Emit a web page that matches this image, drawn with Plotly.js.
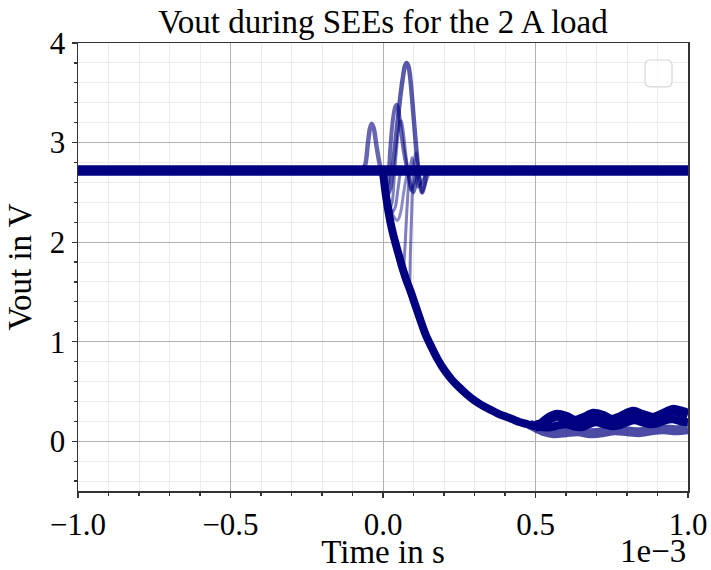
<!DOCTYPE html>
<html>
<head>
<meta charset="utf-8">
<script src="https://cdn.plot.ly/plotly-3.0.1.min.js"></script>
<style>html,body{margin:0;padding:0;background:#fff;}#chart{width:711px;height:570px;}</style>
</head>
<body>
<div id="chart"></div>
<script>
// Time values in units of 1e-3 s, voltages in V
const tFlat = [-1.0, 1.0];
const vFlat = [2.72, 2.72];

const tDecay = [0, 0.01, 0.02, 0.03, 0.04, 0.05, 0.06, 0.07, 0.08, 0.09, 0.10, 0.12, 0.14, 0.16, 0.18, 0.20, 0.225, 0.25, 0.275, 0.30, 0.325, 0.35, 0.375, 0.40, 0.425, 0.45, 0.475, 0.50, 0.525, 0.55, 0.575, 0.60, 0.625, 0.65, 0.675, 0.70, 0.725, 0.75, 0.775, 0.80, 0.825, 0.85, 0.875, 0.90, 0.925, 0.95, 0.975, 1.0];
const vDecay = [2.70, 2.46, 2.27, 2.12, 2.00, 1.89, 1.78, 1.68, 1.59, 1.51, 1.42, 1.24, 1.07, 0.94, 0.82, 0.72, 0.62, 0.54, 0.47, 0.41, 0.36, 0.32, 0.28, 0.25, 0.22, 0.19, 0.17, 0.15, 0.14, 0.14, 0.16, 0.17, 0.15, 0.14, 0.17, 0.19, 0.17, 0.15, 0.16, 0.19, 0.21, 0.19, 0.17, 0.18, 0.21, 0.22, 0.20, 0.19];

const tTailUpper = [0.50, 0.52, 0.54, 0.57, 0.60, 0.63, 0.66, 0.69, 0.72, 0.75, 0.78, 0.82, 0.85, 0.885, 0.92, 0.95, 0.98, 1.0];
const vTailUpper = [0.15, 0.17, 0.22, 0.26, 0.24, 0.20, 0.23, 0.27, 0.25, 0.21, 0.24, 0.29, 0.26, 0.23, 0.27, 0.31, 0.29, 0.27];

const tTailLower = [0.48, 0.50, 0.53, 0.56, 0.60, 0.64, 0.68, 0.72, 0.76, 0.80, 0.84, 0.88, 0.92, 0.96, 1.0];
const vTailLower = [0.17, 0.14, 0.10, 0.08, 0.09, 0.10, 0.08, 0.09, 0.11, 0.10, 0.09, 0.11, 0.12, 0.11, 0.12];

const tPreSpike = [-0.07, -0.058, -0.05, -0.043, -0.037, -0.03, -0.022, -0.012, -0.004, 0.005, 0.015, 0.03, 0.05, 0.07, 0.10];
const vPreSpike = [2.72, 2.78, 2.98, 3.14, 3.19, 3.14, 2.98, 2.80, 2.68, 2.52, 2.34, 2.14, 1.89, 1.68, 1.42];

const tSpikeHigh = [0, 0.008, 0.016, 0.024, 0.032, 0.04, 0.048, 0.056, 0.064, 0.072, 0.078, 0.084, 0.09, 0.096, 0.104, 0.112, 0.12, 0.128, 0.136, 0.145, 0.16];
const vSpikeHigh = [2.70, 2.56, 2.48, 2.55, 2.75, 2.98, 3.22, 3.44, 3.63, 3.77, 3.80, 3.76, 3.63, 3.42, 3.12, 2.84, 2.62, 2.50, 2.58, 2.72, 2.72];

const tSpikeMid = [0, 0.008, 0.016, 0.024, 0.032, 0.04, 0.045, 0.05, 0.056, 0.062, 0.068, 0.075, 0.082, 0.09, 0.10, 0.11, 0.12];
const vSpikeMid = [2.68, 2.52, 2.60, 2.95, 3.22, 3.36, 3.38, 3.34, 3.20, 3.05, 2.92, 2.80, 2.70, 2.58, 2.50, 2.62, 2.72];

const tSpikeLow = [0, 0.01, 0.02, 0.03, 0.038, 0.046, 0.054, 0.06, 0.066, 0.074, 0.082, 0.09, 0.10, 0.11];
const vSpikeLow = [2.66, 2.45, 2.32, 2.40, 2.70, 2.98, 3.18, 3.22, 3.12, 2.90, 2.70, 2.52, 2.58, 2.72];

const tDip1 = [0, 0.01, 0.02, 0.03, 0.04, 0.05, 0.06, 0.066, 0.072, 0.078, 0.085, 0.095, 0.105, 0.115, 0.13, 0.145];
const vDip1 = [2.68, 2.48, 2.30, 2.14, 2.01, 1.89, 1.78, 1.72, 1.95, 2.30, 2.62, 2.85, 2.72, 2.55, 2.62, 2.72];

const tDip2 = [0, 0.01, 0.02, 0.03, 0.04, 0.05, 0.06, 0.07, 0.08, 0.086, 0.09, 0.095, 0.10, 0.108, 0.118, 0.128, 0.14, 0.155];
const vDip2 = [2.68, 2.50, 2.32, 2.17, 2.04, 1.92, 1.80, 1.70, 1.61, 1.56, 1.90, 2.40, 2.75, 2.90, 2.70, 2.50, 2.60, 2.72];

const tDip3 = [0, 0.01, 0.02, 0.03, 0.04, 0.05, 0.06, 0.07];
const vDip3 = [2.70, 2.55, 2.40, 2.30, 2.35, 2.55, 2.72, 2.72];

const tDip4 = [0, 0.012, 0.024, 0.036, 0.048, 0.058, 0.068, 0.08, 0.095, 0.11];
const vDip4 = [2.70, 2.52, 2.36, 2.25, 2.22, 2.30, 2.50, 2.68, 2.74, 2.72];

const xTickVals = [-1.0, -0.5, 0.0, 0.5, 1.0];
const yTickVals = [0, 1, 2, 3, 4];

const NAVY = '#000080';
const FONT = 'Liberation Serif, Times New Roman, serif';
const FS_TICK = 31;
const FS_TITLE = 33;

function tr(x, y, width, opacity) {
  return {x: x, y: y, type: 'scatter', mode: 'lines', showlegend: false, hoverinfo: 'skip',
          line: {color: NAVY, width: width, shape: 'spline', smoothing: 0.8}, opacity: opacity};
}

const data = [
  tr(tFlat, vFlat, 10.5, 1),
  tr(tDecay, vDecay, 8, 1),
  tr(tTailUpper, vTailUpper, 11, 1),
  tr(tTailLower, vTailLower, 10, 0.7),
  tr(tPreSpike, vPreSpike, 4.5, 0.6),
  tr(tSpikeHigh, vSpikeHigh, 4.5, 0.65),
  tr(tSpikeMid, vSpikeMid, 4, 0.6),
  tr(tSpikeLow, vSpikeLow, 3, 0.5),
  tr(tDip1, vDip1, 3, 0.5),
  tr(tDip2, vDip2, 3, 0.5),
  tr(tDip3, vDip3, 3, 0.5),
  tr(tDip4, vDip4, 3, 0.45)
];

// rounded empty legend frame (paper coords)
const lx0 = 0.9295, lx1 = 0.9738, ly0 = 0.902, ly1 = 0.962, rx = 0.009, ry = 0.012;
const legendPath = `M ${lx0+rx},${ly1} L ${lx1-rx},${ly1} Q ${lx1},${ly1} ${lx1},${ly1-ry} L ${lx1},${ly0+ry} Q ${lx1},${ly0} ${lx1-rx},${ly0} L ${lx0+rx},${ly0} Q ${lx0},${ly0} ${lx0},${ly0+ry} L ${lx0},${ly1-ry} Q ${lx0},${ly1} ${lx0+rx},${ly1} Z`;

const layout = {
  width: 711, height: 570,
  margin: {l: 78, r: 23, t: 43, b: 79},
  paper_bgcolor: '#ffffff', plot_bgcolor: '#ffffff',
  font: {family: FONT, color: '#000', size: FS_TICK},
  title: {text: 'Vout during SEEs for the 2 A load', font: {family: FONT, size: FS_TITLE, color: '#000'},
          x: 0.5, xref: 'paper', xanchor: 'center', y: 0.962, yref: 'container', yanchor: 'middle'},
  xaxis: {
    range: [-1, 1], tickvals: xTickVals, tickformat: '.1f',
    ticks: 'outside', ticklen: 5, tickwidth: 1.2, tickcolor: '#333',
    showline: true, linecolor: '#333', linewidth: 1.5, mirror: true,
    showgrid: true, gridcolor: '#b0b0b0', gridwidth: 1, zeroline: false,
    minor: {dtick: 0.1, ticks: 'outside', ticklen: 3, tickcolor: '#333', showgrid: true, gridcolor: '#ececec', gridwidth: 1},
    tickfont: {family: FONT, size: FS_TICK, color: '#000'},
    title: {text: 'Time in s', font: {family: FONT, size: FS_TITLE, color: '#000'}, standoff: 0}
  },
  yaxis: {
    range: [-0.5, 4], tickvals: yTickVals,
    ticks: 'outside', ticklen: 5, tickwidth: 1.2, tickcolor: '#333',
    showline: true, linecolor: '#333', linewidth: 1.5, mirror: true,
    showgrid: true, gridcolor: '#b0b0b0', gridwidth: 1, zeroline: false,
    minor: {dtick: 0.2, tick0: 0, ticks: 'outside', ticklen: 3, tickcolor: '#333', showgrid: true, gridcolor: '#ececec', gridwidth: 1},
    tickfont: {family: FONT, size: FS_TICK, color: '#000'},
    title: {text: 'Vout in V', font: {family: FONT, size: FS_TITLE, color: '#000'}, standoff: 8}
  },
  annotations: [{
    text: '1e\u22123', xref: 'paper', yref: 'paper', x: 1, y: -0.133,
    xanchor: 'right', yanchor: 'middle', showarrow: false,
    font: {family: FONT, size: FS_TITLE, color: '#000'}
  }],
  shapes: [{
    type: 'path', xref: 'paper', yref: 'paper', path: legendPath,
    line: {color: '#d6d6d6', width: 1.2}, fillcolor: 'rgba(255,255,255,0.8)', layer: 'above'
  }]
};

Plotly.newPlot('chart', data, layout, {displayModeBar: false, staticPlot: true});
</script>
</body>
</html>
